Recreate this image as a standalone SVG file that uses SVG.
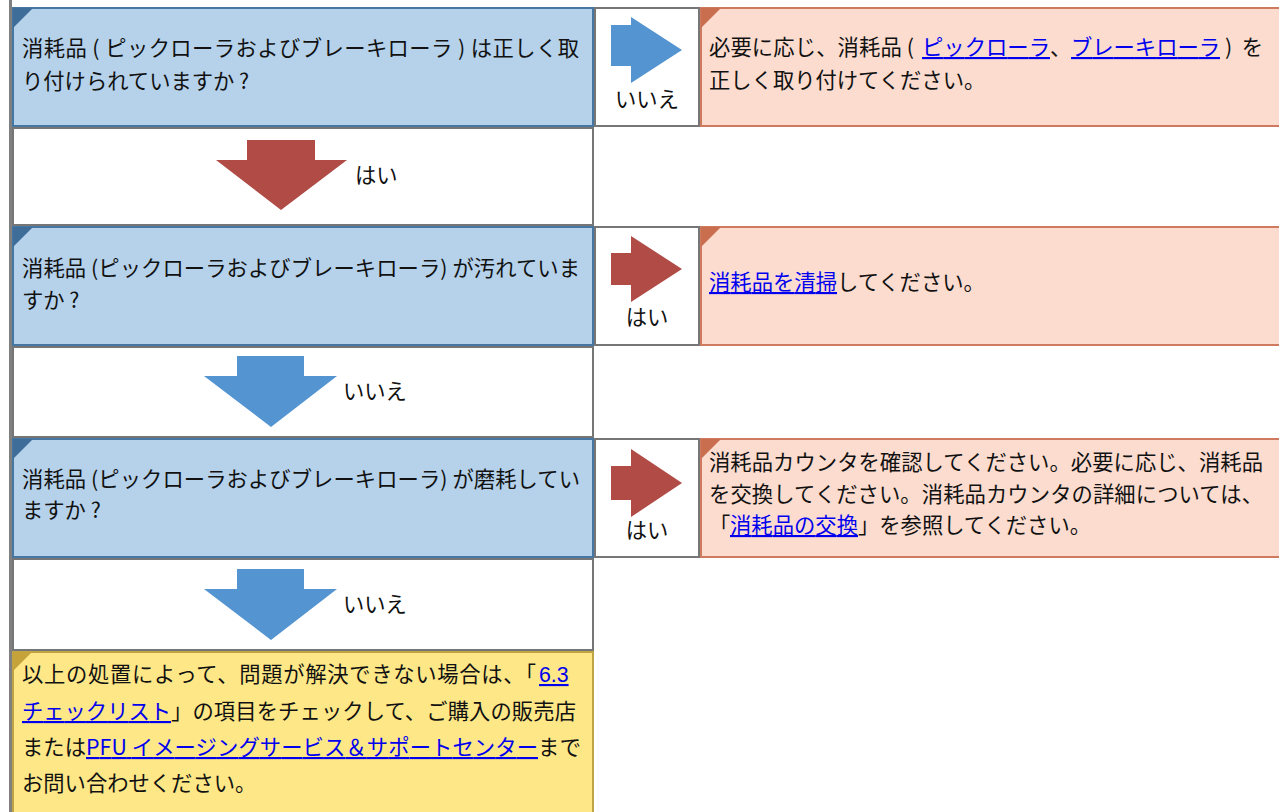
<svg xmlns="http://www.w3.org/2000/svg" width="1279" height="812" viewBox="0 0 1279 812">
<style>
text{font-family:"Noto Sans CJK JP","Noto Sans",sans-serif;font-size:21.3px;fill:#111;}
.lnk{fill:#0000ee;text-decoration:underline;}
.q{fill:#b5d2ea;stroke:#4677a3;stroke-width:2;}
.qc{fill:#3d6d98;}
.a{fill:#fbdccf;stroke:#cf7a5e;stroke-width:2;}
.ac{fill:#c96f50;}
.y{fill:#fde787;stroke:#bea444;stroke-width:2;}
.yc{fill:#c6a23a;}
.w{fill:#fff;stroke:#767676;stroke-width:2;}
.red{fill:#b04b45;}
.blue{fill:#5394d1;}
.mid{text-anchor:middle;}
</style>
<rect x="9" y="0" width="3" height="812" fill="#808080"/>

<g id="q1">
<rect class="q" x="13" y="8" width="580" height="118"/>
<polygon class="qc" points="13,8 33,8 13,28"/>
<text x="22" y="56" textLength="557" lengthAdjust="spacing">消耗品 ( ピックローラおよびブレーキローラ ) は正しく取</text>
<text x="22" y="89">り付けられていますか ?</text>
</g>
<g id="n1">
<rect class="w" x="595" y="8" width="104" height="118"/>
<text class="mid" x="647" y="107">いいえ</text>
</g>
<g id="a1">
<rect class="a" x="701" y="8" width="580" height="118"/>
<polygon class="ac" points="701,8 721,8 701,28"/>
<text x="709" y="55" textLength="205" lengthAdjust="spacing">必要に応じ、消耗品 (</text>
<text class="lnk" x="922" y="55" textLength="128" lengthAdjust="spacing">ピックローラ</text>
<text x="1050" y="55">、</text>
<text class="lnk" x="1071" y="55" textLength="149" lengthAdjust="spacing">ブレーキローラ</text>
<text x="1225" y="55" textLength="38" lengthAdjust="spacing">) を</text>
<text x="709" y="88">正しく取り付けてください。</text>
</g>

<g id="y1">
<rect class="w" x="13" y="128" width="580" height="97"/>
<text x="355" y="183">はい</text>
</g>

<g id="q2">
<rect class="q" x="13" y="227" width="580" height="118"/>
<polygon class="qc" points="13,227 33,227 13,247"/>
<text x="22" y="276" textLength="558" lengthAdjust="spacing">消耗品 (ピックローラおよびブレーキローラ) が汚れていま</text>
<text x="22" y="308">すか ?</text>
</g>
<g id="y2">
<rect class="w" x="595" y="227" width="104" height="118"/>
<text class="mid" x="647" y="325">はい</text>
</g>
<g id="a2">
<rect class="a" x="701" y="227" width="580" height="118"/>
<polygon class="ac" points="701,227 721,227 701,247"/>
<text class="lnk" x="709" y="290" textLength="128" lengthAdjust="spacing">消耗品を清掃</text>
<text x="837" y="290">してください。</text>
</g>

<g id="n2">
<rect class="w" x="13" y="347" width="580" height="90"/>
<text x="343" y="399">いいえ</text>
</g>

<g id="q3">
<rect class="q" x="13" y="439" width="580" height="118"/>
<polygon class="qc" points="13,439 33,439 13,459"/>
<text x="22" y="487" textLength="558" lengthAdjust="spacing">消耗品 (ピックローラおよびブレーキローラ) が磨耗してい</text>
<text x="22" y="518">ますか ?</text>
</g>
<g id="y3">
<rect class="w" x="595" y="439" width="104" height="118"/>
<text class="mid" x="647" y="538">はい</text>
</g>
<g id="a3">
<rect class="a" x="701" y="439" width="580" height="118"/>
<polygon class="ac" points="701,439 721,439 701,459"/>
<text x="709" y="470" textLength="554" lengthAdjust="spacing">消耗品カウンタを確認してください。必要に応じ、消耗品</text>
<text x="709" y="502" textLength="554" lengthAdjust="spacing">を交換してください。消耗品カウンタの詳細については、</text>
<text x="709" y="533">「</text>
<text class="lnk" x="730" y="533" textLength="128" lengthAdjust="spacing">消耗品の交換</text>
<text x="858" y="533">」を参照してください。</text>
</g>

<g id="n3">
<rect class="w" x="13" y="559" width="580" height="91"/>
<text x="343" y="612">いいえ</text>
</g>

<g id="end">
<rect class="y" x="13" y="652" width="580" height="162"/>
<polygon class="yc" points="13,652 32,652 13,671"/>
<text x="22" y="682" textLength="514" lengthAdjust="spacing">以上の処置によって、問題が解決できない場合は、「</text>
<text class="lnk" x="539" y="682" style="font-family:'Liberation Sans',sans-serif">6.3 </text>
<text class="lnk" x="22" y="719" textLength="149" lengthAdjust="spacing">チェックリスト</text>
<text x="171" y="719" textLength="405" lengthAdjust="spacing">」の項目をチェックして、ご購入の販売店</text>
<text x="22" y="755" textLength="64" lengthAdjust="spacing">または</text>
<text class="lnk" x="86" y="755" textLength="452" lengthAdjust="spacing">PFU イメージングサービス＆サポートセンター</text>
<text x="538" y="755" textLength="43" lengthAdjust="spacing">まで</text>
<text x="22" y="791">お問い合わせください。</text>
</g>

<g id="connectors">
<polygon class="blue" points="611,25 631,25 631,17 682,50 631,83 631,66 611,66"/>
<polygon class="red" points="247,140 315,140 315,160 347,160 281,210 216,160 247,160"/>
<polygon class="red" points="611,253 631,253 631,236 682,269 631,302 631,285 611,285"/>
<polygon class="blue" points="237,356 304,356 304,376 337,376 271,427 204,376 237,376"/>
<polygon class="red" points="611,466 631,466 631,449 682,483 631,517 631,500 611,500"/>
<polygon class="blue" points="237,569 304,569 304,589 337,589 271,640 204,589 237,589"/>
</g>
</svg>
